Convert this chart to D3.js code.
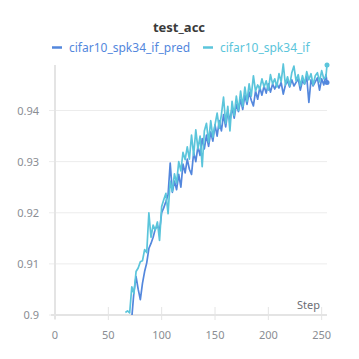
<!DOCTYPE html>
<html>
  <head>
    <style type="text/css">
      body { margin:0; background:#fff; }
      * { font-family:"Noto Sans","Open Sans",sans-serif; }
    </style>
  </head>
  <body>
    <div id="canvas"></div>
    <script src="https://cdnjs.cloudflare.com/ajax/libs/d3/7.8.5/d3.min.js"></script>
    <script type="text/javascript">

    var seriesNames = ["cifar10_spk34_if_pred", "cifar10_spk34_if"];
    var seriesColors = ["#5387dd", "#5bc5db"];

    // steps 66..254 every 2, then 255
    var steps = d3.range(66, 255, 2).concat([255]);

    var predValues = [
      0.8960, 0.8970, 0.8985, 0.8995, 0.9045, 0.9075, 0.9050, 0.9030, 0.9062, 0.9085,
      0.9102, 0.9130, 0.9140, 0.9152, 0.9168, 0.9175, 0.9165, 0.9200, 0.9210, 0.9222,
      0.9235, 0.9297, 0.9240, 0.9262, 0.9245, 0.9275, 0.9250, 0.9295, 0.9278, 0.9305,
      0.9285, 0.9275, 0.9318, 0.9300, 0.9330, 0.9312, 0.9345, 0.9325, 0.9352, 0.9330,
      0.9358, 0.9340, 0.9372, 0.9350, 0.9380, 0.9360, 0.9392, 0.9368, 0.9398, 0.9380,
      0.9405, 0.9385, 0.9412, 0.9398, 0.9422, 0.9402, 0.9430, 0.9412, 0.9436, 0.9420,
      0.9409, 0.9438, 0.9422, 0.9445, 0.9430, 0.9448, 0.9434, 0.9452, 0.9436, 0.9452,
      0.9442, 0.9452, 0.9444, 0.9455, 0.9432, 0.9450, 0.9458, 0.9446, 0.9460, 0.9448,
      0.9455, 0.9462, 0.9440, 0.9458, 0.9452, 0.9466, 0.9416, 0.9460, 0.9448, 0.9456,
      0.9464, 0.9440, 0.9462, 0.9450, 0.9470,
      0.9455
    ];

    var ifValues = [
      0.9005, 0.9008, 0.9004, 0.9055, 0.9042, 0.9085, 0.9092, 0.9104, 0.9106, 0.9128,
      0.9122, 0.9200, 0.9152, 0.9176, 0.9166, 0.9182, 0.9146, 0.9212, 0.9226, 0.9238,
      0.9198, 0.9262, 0.9242, 0.9276, 0.9258, 0.9300, 0.9282, 0.9318, 0.9304, 0.9329,
      0.9305, 0.9352, 0.9312, 0.9362, 0.9325, 0.9350, 0.9290, 0.9360, 0.9375, 0.9338,
      0.9380, 0.9348, 0.9372, 0.9395, 0.9365, 0.9392, 0.9426, 0.9375, 0.9408, 0.9360,
      0.9418, 0.9390, 0.9428, 0.9400, 0.9438, 0.9408, 0.9446, 0.9418, 0.9452, 0.9428,
      0.9468, 0.9438, 0.9450, 0.9442, 0.9462, 0.9446, 0.9458, 0.9440, 0.9470, 0.9452,
      0.9462, 0.9446, 0.9472, 0.9456, 0.9491, 0.9450, 0.9466, 0.9448, 0.9474, 0.9487,
      0.9458, 0.9470, 0.9448, 0.9468, 0.9452, 0.9476, 0.9460, 0.9472, 0.9450, 0.9468,
      0.9474, 0.9456, 0.9478, 0.9462, 0.9466,
      0.9489
    ];

    var xTicks = [0, 50, 100, 150, 200, 250];
    var yTicks = [0.90, 0.91, 0.92, 0.93, 0.94];

    (function () {
      var width = 359, height = 359;
      var pLeft = 55, pRight = 327, pTop = 65, pBottom = 315;

      var svg = d3.select('#canvas').append('svg')
          .attr('width', width)
          .attr('height', height);

      var x = d3.scaleLinear().domain([0, 255]).range([pLeft, pRight]);
      var y = d3.scaleLinear().domain([0.9, 0.9489]).range([pBottom, pTop]);

      // gridlines
      svg.selectAll('line.grid')
          .data(yTicks)
        .enter().append('line')
          .attr('x1', pLeft - 6).attr('x2', pRight)
          .attr('y1', function (d) { return y(d); })
          .attr('y2', function (d) { return y(d); })
          .style('stroke', '#ececec').style('stroke-width', 1);

      svg.selectAll('text.ylab')
          .data(yTicks)
        .enter().append('text')
          .attr('x', 39)
          .attr('y', function (d) { return y(d) + 4; })
          .attr('text-anchor', 'end')
          .style('font-size', '11px').style('fill', '#8a8d93')
          .text(function (d) { return String(+d.toFixed(2)); });

      // axis lines
      svg.append('line')
          .attr('x1', pLeft).attr('x2', pLeft).attr('y1', pTop).attr('y2', pBottom + 4)
          .style('stroke', '#e4e4e4').style('stroke-width', 2);
      svg.append('line')
          .attr('x1', pLeft - 4).attr('x2', pRight).attr('y1', pBottom).attr('y2', pBottom)
          .style('stroke', '#e4e4e4').style('stroke-width', 2);

      svg.selectAll('line.xtick')
          .data(xTicks)
        .enter().append('line')
          .attr('x1', function (d) { return x(d); })
          .attr('x2', function (d) { return x(d); })
          .attr('y1', pBottom - 8).attr('y2', pBottom + 5)
          .style('stroke', '#e4e4e4').style('stroke-width', 1);

      svg.selectAll('text.xlab')
          .data(xTicks)
        .enter().append('text')
          .attr('x', function (d) { return x(d); })
          .attr('y', 339)
          .attr('text-anchor', 'middle')
          .style('font-size', '11px').style('fill', '#8a8d93')
          .text(function (d) { return d; });

      svg.append('text')
          .attr('x', 320).attr('y', 309)
          .attr('text-anchor', 'end')
          .style('font-size', '11px').style('fill', '#6b6e75')
          .text('Step');

      // title + legend
      svg.append('text')
          .attr('x', 179).attr('y', 32)
          .attr('text-anchor', 'middle')
          .style('font-size', '13px').style('font-weight', 'bold').style('fill', '#3a3a3a')
          .text('test_acc');

      var legendX = [52, 203];
      seriesNames.forEach(function (name, i) {
        svg.append('line')
            .attr('x1', legendX[i]).attr('x2', legendX[i] + 10)
            .attr('y1', 47.5).attr('y2', 47.5)
            .style('stroke', seriesColors[i]).style('stroke-width', 2.5);
        svg.append('text')
            .attr('x', legendX[i] + 17).attr('y', 51.5)
            .style('font-size', '12px').style('fill', seriesColors[i])
            .text(name);
      });

      // lines
      svg.append('clipPath').attr('id', 'clip')
        .append('rect').attr('x', pLeft).attr('y', pTop - 5)
          .attr('width', pRight - pLeft + 5).attr('height', pBottom - pTop + 5);

      var line = d3.line()
          .x(function (d) { return x(d[0]); })
          .y(function (d) { return y(d[1]); });

      [predValues, ifValues].forEach(function (vals, i) {
        var pts = steps.map(function (s, j) { return [s, vals[j]]; });
        svg.append('path')
            .datum(pts)
            .attr('clip-path', 'url(#clip)')
            .attr('d', line)
            .style('fill', 'none')
            .style('stroke', seriesColors[i])
            .style('stroke-width', 1.7)
            .style('stroke-linejoin', 'round');
        var last = pts[pts.length - 1];
        svg.append('circle')
            .attr('cx', x(last[0])).attr('cy', y(last[1]))
            .attr('r', 2.5)
            .style('fill', seriesColors[i]);
      });
    })();
    </script>
  </body>
</html>
